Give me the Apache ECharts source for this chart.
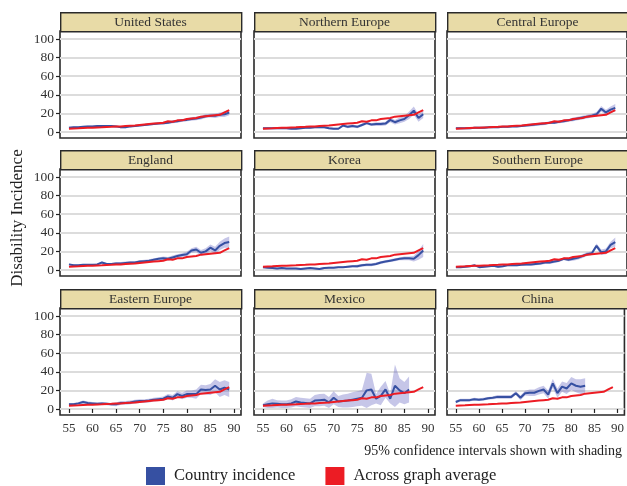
<!DOCTYPE html>
<html>
<head>
<meta charset="utf-8">
<script src="https://cdn.jsdelivr.net/npm/echarts@6/dist/echarts.min.js"></script>
<style>
  html, body { margin: 0; padding: 0; background: #fff; }
  #chart { width: 627px; height: 486px; }
</style>
</head>
<body>
<div id="chart"></div>
<script>
// ages on the x axis
const ages = [55,56,57,58,59,60,61,62,63,64,65,66,67,68,69,70,71,72,73,74,75,76,77,78,79,80,81,82,83,84,85,86,87,88,89];
const xTicks = [55,60,65,70,75,80,85,90];
const yTicks = [0,20,40,60,80,100];

// red line, same in every panel
const avgIncidence = [3.5,3.8,4,4.3,4.5,4.5,4.8,5,5.3,5.5,5.8,6,6.5,6.8,7,7.5,8,8.5,9,9.5,10,11.5,11,12.5,12.5,14,14.5,15,16.5,17,17.5,18,18.5,21,23.5];

// country incidence and half width of 95% CI
const usIncidence = [4.5,5,5,5.5,6,6,6.5,6.5,6.5,6.5,6,5,5,6,6.5,7,7.5,8,8.5,9,9.5,10,11,11.5,12.5,13,14,14.5,15.5,17,17.5,17.5,18.5,19,21];
const usCI = [1,1,1,1,1,1,1,1,1,1,1,1,1,1,1,1,1,1,1,1,1.5,1.5,1.5,1.5,1.5,1.5,2,2,2,2,2,2.5,2.5,3,3];

const neIncidence = [4,4,4,4,4,4,3.5,3.5,4,4.5,4.5,5,5,5,4,3.5,3.5,7,5.5,6.5,5.5,7.5,9.5,8,8.5,8.5,9,13,10.5,12.5,14,18,23,15,19];
const neCI = [1,1,1,1,1,1,1,1,1,1,1,1,1,1,1,1,1,1.5,1.5,1.5,1.5,1.5,1.5,1.5,2,2,2,2.5,2.5,3,3,4,4.5,4,4];

const ceIncidence = [4,4,4,4,4.5,4.5,4.5,5,5,5,5.5,5.5,6,6,6.5,7,7.5,8,8.5,9,10,10,11,11.5,12.5,13.5,14.5,15.5,16.5,17.5,19,25,21,24,26];
const ceCI = [1,1,1,1,1,1,1,1,1,1,1,1,1,1,1,1.5,1.5,1.5,1.5,1.5,1.5,1.5,1.5,1.5,1.5,2,2,2,2,2,2.5,3,3,3.5,4];

const enIncidence = [6,5,5,5.5,5.5,5.5,6,8,6.5,6.5,7,7,7.5,8,8,9,9.5,10,11,12,12.5,12,13.5,15,16,17,21,22,18.5,20,24,21,26,29,30];
const enCI = [1,1,1,1,1,1,1,1,1,1,1.5,1.5,1.5,1.5,1.5,1.5,1.5,1.5,1.5,1.5,2,2,2,2,2,2.5,2.5,3,3,3.5,3.5,4,4.5,5,6];

const krIncidence = [3,2.5,2,1.5,2,1.5,1.5,1.5,1,1.5,2,1.5,1,2,2.5,2.5,3,3,3.5,4,4,5,5.5,5.5,6.5,8,9,10,11,12,12.5,12.5,12,16,21];
const krCI = [1,1,1,1,1,1,1,1,1,1,1,1,1,1,1,1,1,1,1,1,1.5,1.5,1.5,1.5,1.5,1.5,1.5,1.5,1.5,1.5,2,2,3,5,7];

const seIncidence = [3,3,3.5,4,5,3,3.5,4,4.5,3.5,4,5,5,5,5.5,6,6,6.5,7,8,8,9,10,12,11,12,13,15,17,18,26,19,20,27,30];
const seCI = [1,1,1,1,1,1,1,1,1,1,1,1,1,1,1,1.5,1.5,1.5,1.5,1.5,1.5,1.5,1.5,1.5,1.5,2,2,2,2,2,2.5,3,3,3.5,5];

const eeIncidence = [5,5,6,7.5,6.5,6,5.5,6,5.5,5,5,6.5,6.5,7,8,8.5,8.5,9,10,10.5,11,13.5,12,16,14,16,16,16,21,20.5,21,25,21,23,21];
const eeCI = [1.5,1.5,1.5,1.5,1.5,1.5,1.5,1.5,1.5,1.5,2,2,2,2,2,2,2,2,2,2,2.5,2.5,3,3,3.5,4,4,5,5,5,6,7,8,8,8];

const mxIncidence = [4,5,6,5.5,5,5,6,8,7,6.5,6,9,9.5,10,7,12,8,8.5,9,10,11,12,20,21,11,14,21,11,25,20,17,21,null,null,null];
const mxCI = [2,4,5,4,4,4,4.5,5,5,5,5,6,6.5,6.5,6,7,6,7,7.5,8,8,8.5,19,17,5,10,9,5,23,13,12,14,null,null,null];

const cnIncidence = [7.5,9.5,9.5,9.5,10.5,10,10.5,11.5,12,13,13,13,13,17,12,17,17.5,17.5,19.5,21,15.5,27.5,17,24,22,27.5,25,24,25,null,null,null,null,null,null];
const cnCI = [1.5,1.5,1.5,1.5,1.5,1.5,1.5,1.5,1.5,2,2,2,2,2,2.5,2.5,3.5,3.5,4,4,4.5,5,5,5.5,6,7,7,8,8,null,null,null,null,null,null];

const panelNames = ['United States','Northern Europe','Central Europe','England','Korea','Southern Europe','Eastern Europe','Mexico','China'];
const panelIncidence = [usIncidence, neIncidence, ceIncidence, enIncidence, krIncidence, seIncidence, eeIncidence, mxIncidence, cnIncidence];
const panelCI = [usCI, neCI, ceCI, enCI, krCI, seCI, eeCI, mxCI, cnCI];

// layout
const FONT = 'Liberation Serif';
const colLeft = [60, 254, 447];
const headerTop = [12, 150, 289];
const headerH = 19;
const plotW = 181;
const plotH = 107;
const xMin = 53.1, xMax = 91.5;
const yMin = -6.5, yMax = 108.7;
const BLUE = '#3650a2';
const RED = '#ec1c24';
const BAND = 'rgba(105,105,195,0.38)';

const chart = echarts.init(document.getElementById('chart'));

const grids = [], xAxes = [], yAxes = [], series = [], graphics = [];

panelNames.forEach((name, i) => {
  const r = Math.floor(i / 3), c = i % 3;
  const left = colLeft[c];
  const top = headerTop[r] + headerH;
  const mid = panelIncidence[i];
  const ci = panelCI[i];

  grids.push({
    left: left, top: top, width: plotW, height: plotH,
    show: true, borderColor: '#2a2a2a', borderWidth: 1.6, backgroundColor: '#fff'
  });
  xAxes.push({
    gridIndex: i, type: 'value', min: xMin, max: xMax,
    axisLine: { show: false },
    splitLine: { show: false },
    axisTick: { show: r === 2, customValues: xTicks, length: 4, lineStyle: { color: '#222', width: 1.2 } },
    axisLabel: { show: r === 2, customValues: xTicks, fontFamily: FONT, fontSize: 13, color: '#333', margin: 7 }
  });
  yAxes.push({
    gridIndex: i, type: 'value', min: yMin, max: yMax,
    axisLine: { show: false },
    splitLine: { show: true, lineStyle: { color: '#dcdcdc', width: 2 } },
    axisTick: { show: c === 0, customValues: yTicks, length: 4, lineStyle: { color: '#222', width: 1.2 } },
    axisLabel: { show: c === 0, customValues: yTicks, fontFamily: FONT, fontSize: 13.5, color: '#333', margin: 6 }
  });

  // header strip
  graphics.push({
    type: 'rect', left: left, top: headerTop[r], z: 10,
    shape: { width: plotW, height: headerH },
    style: { fill: '#e8dba7', stroke: '#2a2a2a', lineWidth: 1.4 }
  });
  graphics.push({
    type: 'text', x: left + plotW / 2, y: headerTop[r] + headerH / 2 + 1, z: 11,
    style: { text: name, font: '13.5px "' + FONT + '"', fill: '#333', textAlign: 'center', textVerticalAlign: 'middle' }
  });

  // confidence band as polygon through the axis scales
  const hiPts = [], loPts = [];
  ages.forEach((a, k) => {
    if (mid[k] == null) return;
    hiPts.push([a, mid[k] + ci[k]]);
    loPts.push([a, Math.max(mid[k] - ci[k], yMin)]);
  });
  series.push({
    type: 'custom', name: 'ci' + i, xAxisIndex: i, yAxisIndex: i, silent: true,
    data: [[ages[0], 0]], z: 1,
    renderItem: (params, api) => {
      const pts = hiPts.map(p => api.coord(p)).concat(loPts.slice().reverse().map(p => api.coord(p)));
      return { type: 'polygon', shape: { points: pts }, style: { fill: BAND } };
    }
  });
  series.push({
    type: 'line', name: 'Country incidence', xAxisIndex: i, yAxisIndex: i,
    data: ages.map((a, k) => [a, mid[k]]).filter(d => d[1] != null),
    showSymbol: false, silent: true, z: 3,
    lineStyle: { color: BLUE, width: 2 }, itemStyle: { color: BLUE }
  });
  series.push({
    type: 'line', name: 'Across graph average', xAxisIndex: i, yAxisIndex: i,
    data: ages.map((a, k) => [a, avgIncidence[k]]),
    showSymbol: false, silent: true, z: 4,
    lineStyle: { color: RED, width: 2 }, itemStyle: { color: RED }
  });
});

graphics.push({
  type: 'text', x: 18, y: 218, rotation: Math.PI / 2,
  style: { text: 'Disability Incidence', font: '17px "' + FONT + '"', fill: '#222', textAlign: 'center', textVerticalAlign: 'middle' }
});
graphics.push({
  type: 'text', x: 622, y: 451,
  style: { text: '95% confidence intervals shown with shading', font: '14px "' + FONT + '"', fill: '#222', textAlign: 'right', textVerticalAlign: 'middle' }
});

chart.setOption({
  animation: false,
  backgroundColor: '#fff',
  grid: grids,
  xAxis: xAxes,
  yAxis: yAxes,
  legend: {
    data: [
      { name: 'Country incidence', icon: 'rect', itemStyle: { color: BLUE } },
      { name: 'Across graph average', icon: 'rect', itemStyle: { color: RED } }
    ],
    left: 146, top: 467, padding: 0,
    itemWidth: 19, itemHeight: 18, itemGap: 30,
    textStyle: { fontFamily: FONT, fontSize: 16.5, color: '#222', padding: [2, 0, 0, 4] },
    selectedMode: false
  },
  graphic: graphics,
  series: series
});
</script>
</body>
</html>
